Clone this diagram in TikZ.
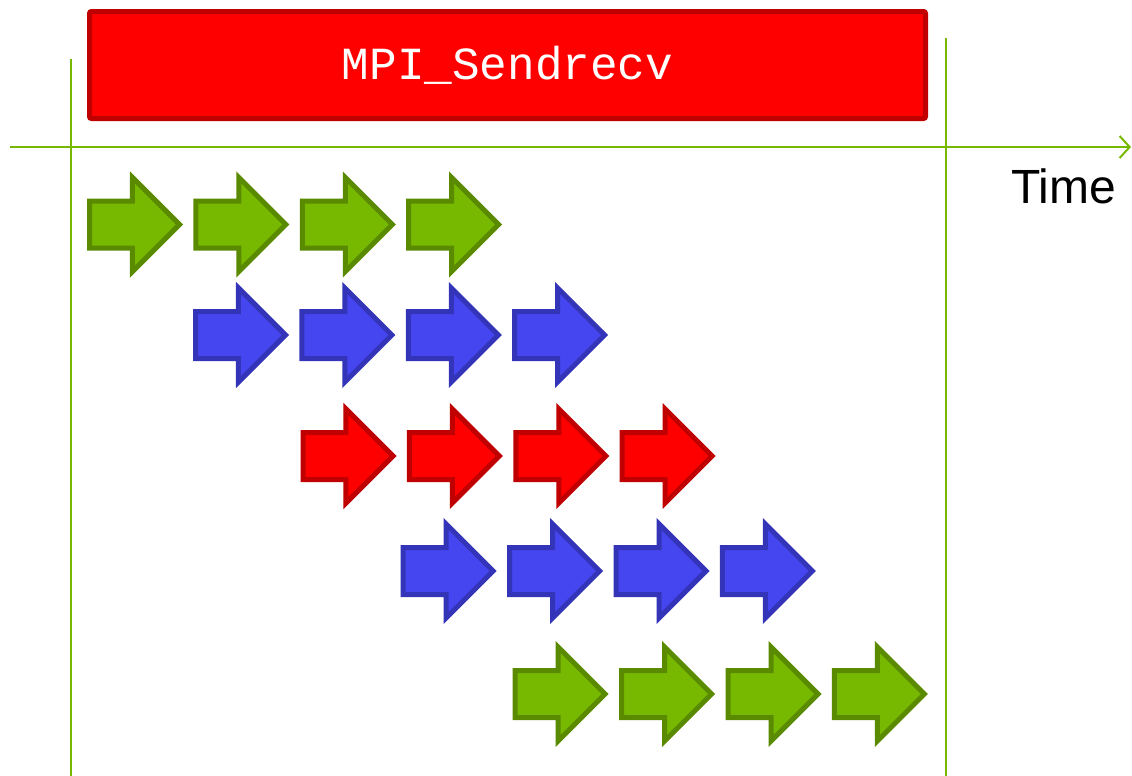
\documentclass[tikz,border=0pt]{standalone}
\usepackage{fontspec}
\setmainfont{Liberation Sans}
\newfontfamily\callfont{Liberation Mono}
\usetikzlibrary{shapes.arrows,arrows.meta}
\definecolor{nvgreen}{HTML}{76B900}
\definecolor{greenfill}{HTML}{76B900}
\definecolor{greenline}{HTML}{5A8A00}
\definecolor{bluefill}{HTML}{4646F0}
\definecolor{blueline}{HTML}{3434B8}
\definecolor{redfill}{HTML}{FF0000}
\definecolor{redline}{HTML}{C00000}
\tikzset{
  sendarrow/.style={single arrow, draw=#1line, fill=#1fill, line width=2.5pt,
    inner xsep=0pt, inner ysep=10.5pt, single arrow head extend=11.75pt,
    single arrow tip angle=90, minimum height=45pt, anchor=tail},
  timeline/.style={draw=nvgreen, line width=1pt}
}
\begin{document}
\begin{tikzpicture}[x=0.5pt, y=-0.5pt]
    \useasboundingbox (0,0) rectangle (1132,776);
    % call bar
    \node[draw=redline, fill=redfill, line width=2.5pt, rounded corners=1pt,
      minimum width=418pt, minimum height=53.5pt, inner sep=0pt,
      text=white, font=\callfont\fontsize{23}{23}\selectfont] (call) at (507.5,65) {MPI\_Sendrecv};
    % time axis and bounds
    \coordinate (t0) at (10,147);
    \coordinate (t1) at (1131,147);
    \coordinate (s0) at (71,59);
    \coordinate (s1) at (71,776);
    \coordinate (e0) at (946,38);
    \coordinate (e1) at (946,776);
    \draw[timeline] (s0) -- (s1);
    \draw[timeline] (e0) -- (e1);
    \draw[timeline, -{Straight Barb[length=5pt, width=11pt]}] (t0) -- (t1);
    \node[anchor=base west, font=\fontsize{24}{24}\selectfont] (time) at (1004,203) {Time};
    % messages
    \foreach \r/\sx/\cy/\col in {1/87/224.5/green, 2/193/335/blue, 3/300.5/456/red,
                                4/400.7/571/blue, 5/512.7/694/green}{
      \foreach \i in {1,...,4}{
        \node[sendarrow=\col] (m\r\i) at ({\sx+106.4*(\i-1)},\cy) {};
      }
    }
\end{tikzpicture}
\end{document}
